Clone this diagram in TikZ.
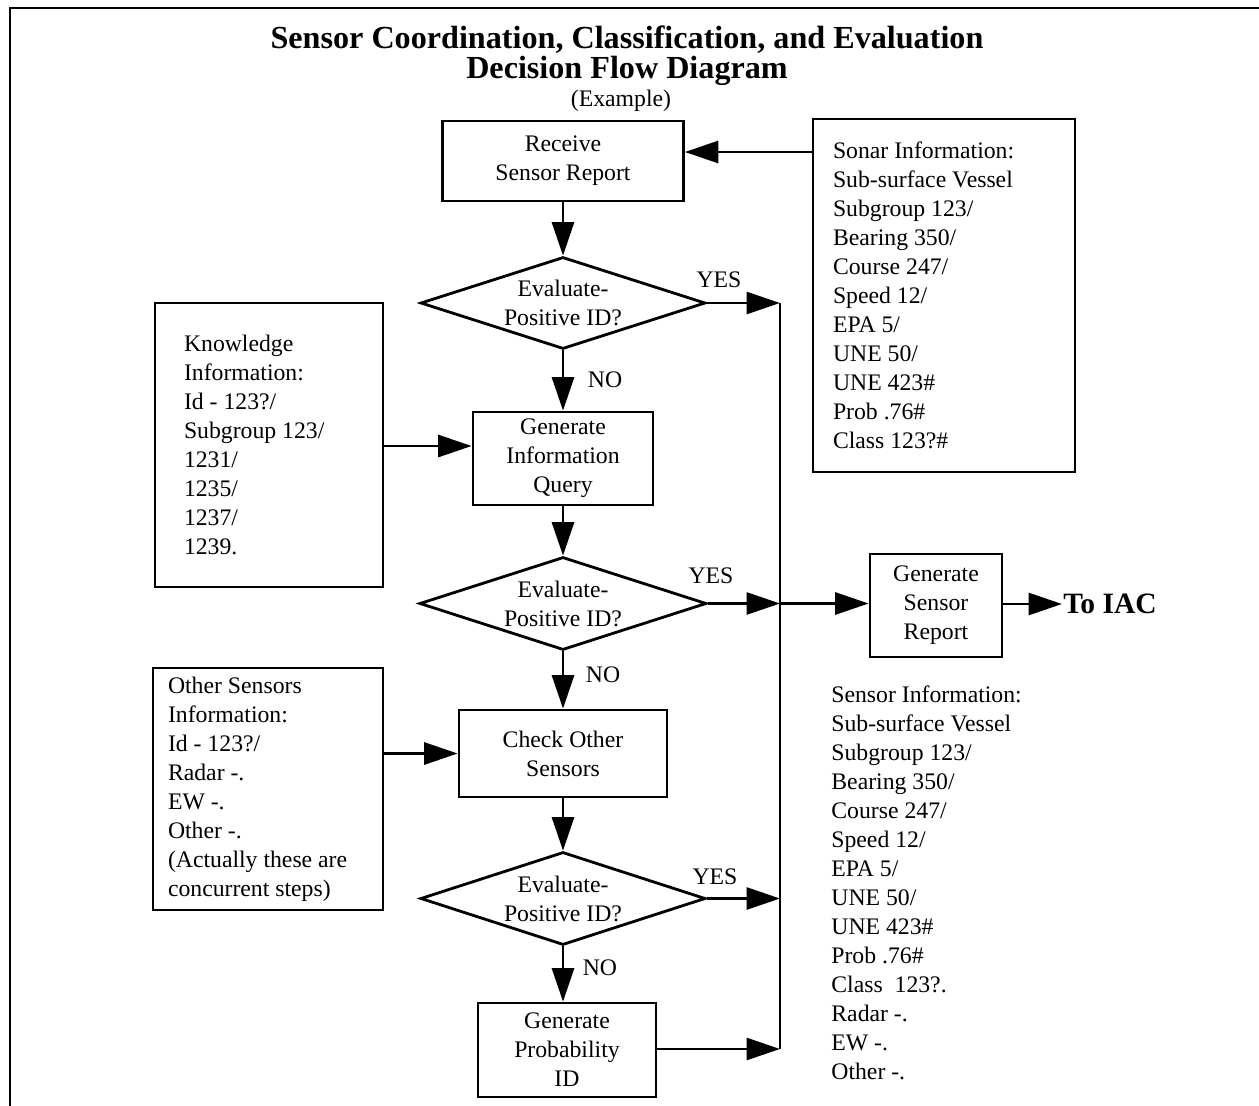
\documentclass[tikz,border=0pt]{standalone}
\usepackage{fontspec}
\setmainfont{Liberation Serif}
\usetikzlibrary{shapes.geometric}
\usetikzlibrary{arrows.meta}

\begin{document}
\begin{tikzpicture}[x=0.02cm,y=-0.02cm,line width=1.6pt,
  every node/.style={font=\fontsize{13.5}{16.5}\selectfont},
  box/.style={draw,inner sep=0pt,align=center},
  info/.style={draw,inner xsep=#1,inner ysep=0pt,align=flush left},
  decide/.style={draw,diamond,aspect=3,inner sep=0pt,align=center,minimum width=5.7cm,minimum height=1.84cm},
  flow/.style={-{Triangle[length=19pt,width=12.5pt]}}]
\useasboundingbox (0,0) rectangle (1259,1106);
\draw (10,1106) -- (10,8) -- (1259,8);
\node[font=\fontsize{18.3}{17}\selectfont\bfseries,align=center] (title) at (627,56) {Sensor Coordination, Classification, and Evaluation\\Decision Flow Diagram};
\node (example) at (621,101) {(Example)};

\node[box,minimum width=4.82cm,minimum height=1.6cm] (recv) at (563,161) {Receive\\Sensor Report};
\node[info=0.4cm,text width=4.44cm,minimum height=7.06cm] (sonar) at (944,295.5) {Sonar Information:\\Sub-surface Vessel\\Subgroup 123/\\Bearing 350/\\Course 247/\\Speed 12/\\EPA 5/\\UNE 50/\\UNE 423\#\\Prob .76\#\\Class 123?\#};
\node[decide] (d1) at (563,303) {Evaluate-\\Positive ID?};
\node[info=0.58cm,text width=3.4cm,minimum height=5.68cm] (know) at (269,445) {Knowledge\\Information:\\Id - 123?/\\Subgroup 123/\\1231/\\1235/\\1237/\\1239.};
\node[box,minimum width=3.6cm,minimum height=1.86cm] (giq) at (563,458.5) {Generate\\Information\\Query};
\node[decide,minimum width=5.74cm,minimum height=1.86cm] (d2) at (563,603.5) {Evaluate-\\Positive ID?};
\node[box,minimum width=2.64cm,minimum height=2.06cm] (gsr) at (936,605.5) {Generate\\Sensor\\Report};
\node[font=\fontsize{16.8}{18}\selectfont\bfseries,anchor=west,inner sep=0pt] (toiac) at (1062,604) {To IAC};
\node[info=0.3cm,text width=4cm,minimum height=4.84cm] (others) at (268,789) {Other Sensors\\Information:\\Id - 123?/\\Radar -.\\EW -.\\Other -.\\(Actually these are\\concurrent steps)};
\node[box,minimum width=4.16cm,minimum height=1.74cm] (check) at (563,753.5) {Check Other\\Sensors};
\node[decide,minimum height=1.86cm] (d3) at (563,898.5) {Evaluate-\\Positive ID?};
\node[box,minimum width=3.56cm,minimum height=1.88cm] (gpi) at (567,1050) {Generate\\Probability\\ID};
\node[align=left,anchor=west,inner sep=0pt] (sensinfo) at (830,882.5) {Sensor Information:\\Sub-surface Vessel\\Subgroup 123/\\Bearing 350/\\Course 247/\\Speed 12/\\EPA 5/\\UNE 50/\\UNE 423\#\\Prob .76\#\\Class~ 123?.\\Radar -.\\EW -.\\Other -.};

\node (yes1) at (719,280) {YES};
\node (yes2) at (711,576) {YES};
\node (yes3) at (715,877) {YES};
\node (no1) at (605,380) {NO};
\node (no2) at (603,675) {NO};
\node (no3) at (600,968) {NO};

\coordinate (j1) at (780,303);
\coordinate (j2) at (780,603.5);
\coordinate (j3) at (780,898.5);
\coordinate (j4) at (780,1049);

\draw[flow] (sonar.west |- 0,152) -- (recv.east |- 0,152);
\draw[flow] (recv.south) -- (d1.north);
\draw[flow] (d1.south) -- (giq.north);
\draw[flow] (giq.south) -- (d2.north);
\draw[flow] (d2.south) -- (check.north);
\draw[flow] (check.south) -- (d3.north);
\draw[flow] (d3.south) -- (d3.south |- gpi.north);
\draw[flow] (know.east |- 0,446) -- (giq.west |- 0,446);
\draw[flow] (others.east |- check.west) -- (check.west);
\draw[flow] (d1.east) -- (j1);
\draw[flow] (d2.east) -- (j2);
\draw[flow] (d3.east) -- (j3);
\draw[flow] (gpi.east |- j4) -- (j4);
\draw (j1) -- (j4);
\draw[flow] (j2) -- (j2 -| gsr.west);
\draw[flow] (gsr.east |- toiac) -- (toiac.west);
\end{tikzpicture}
\end{document}
